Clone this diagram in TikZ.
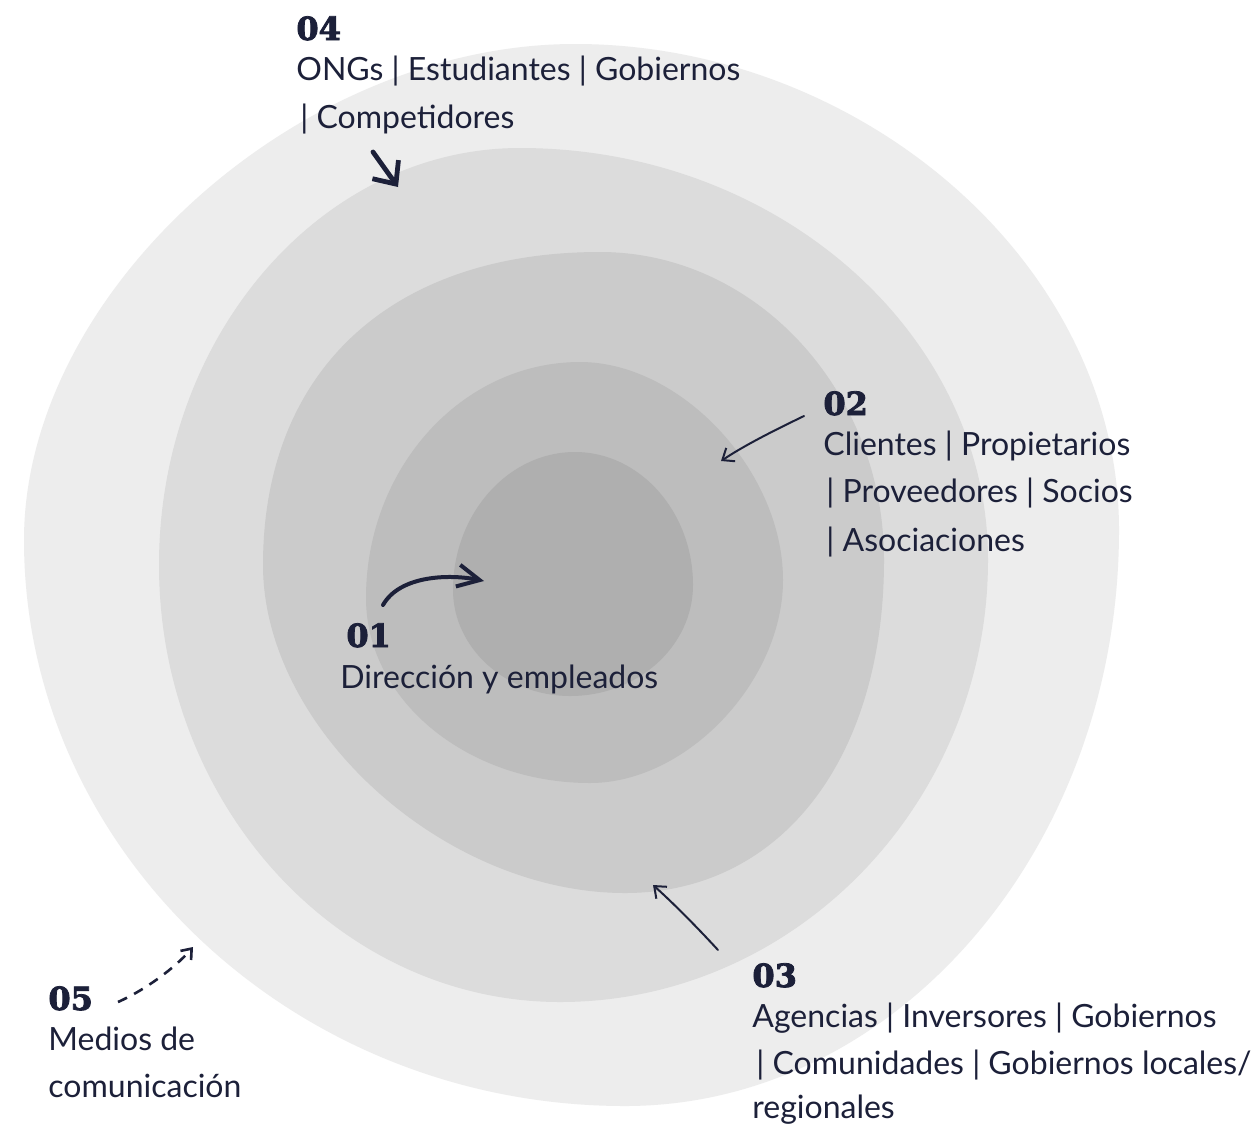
\documentclass[tikz,border=0pt]{standalone}
\usepackage{fontspec}
\usetikzlibrary{arrows.meta}
\newfontfamily\handfont{Lato}
\newfontfamily\numfont{DejaVu Serif}[BoldFeatures={FakeBold=2.5}]
\definecolor{ink}{HTML}{1C2039}
\definecolor{ringA}{HTML}{EDEDED}
\definecolor{ringB}{HTML}{DCDCDC}
\definecolor{ringC}{HTML}{CBCBCB}
\definecolor{ringD}{HTML}{BDBDBD}
\definecolor{ringE}{HTML}{AFAFAF}
\begin{document}
\begin{tikzpicture}[x=0.5pt,y=-0.5pt,
  num/.style={anchor=base west, inner sep=0pt, font=\numfont\bfseries\fontsize{16}{19}\selectfont, text=ink},
  hand/.style={anchor=base west, inner sep=0pt, font=\handfont\fontsize{16}{24}\selectfont, text=ink},
  heavyarrow/.style={draw=ink, line width=2.4pt, line cap=round, line join=round},
  thinarrow/.style={draw=ink, line width=1pt, line cap=round, line join=round, -{Straight Barb[length=5pt,width=8pt]}},
  dasharrow/.style={draw=ink, line width=1.3pt, dash pattern=on 5pt off 4pt, -{Straight Barb[length=4.5pt,width=7pt]}}
]
\fill[white] (0,0) rectangle (1251,1130);
\useasboundingbox (0,0) rectangle (1251,1130);

% rings
\fill[ringA] (575,44) .. controls (860,44) and (1119,263) .. (1119,530)
  .. controls (1119,847) and (897,1106) .. (625,1106)
  .. controls (294,1106) and (24,851) .. (24,540)
  .. controls (24,292) and (299,44) .. cycle;
\fill[ringB] (520,148) .. controls (777,148) and (988,333) .. (988,560)
  .. controls (988,803) and (795,1002) .. (560,1002)
  .. controls (339,1002) and (159,805) .. (159,565)
  .. controls (159,336) and (321,148) .. cycle;
\fill[ringC] (600,252) .. controls (756,252) and (884,391) .. (884,560)
  .. controls (884,760) and (780,893) .. (625,893)
  .. controls (444,893) and (263,729) .. (263,565)
  .. controls (263,371) and (391,252) .. cycle;
\fill[ringD] (580,362) .. controls (681,362) and (783,471) .. (783,580)
  .. controls (783,681) and (687,783) .. (590,783)
  .. controls (467,783) and (366,700) .. (366,598)
  .. controls (366,468) and (462,362) .. cycle;
\fill[ringE] (575,452) .. controls (640,452) and (693,512) .. (693,585)
  .. controls (693,646) and (638,696) .. (570,696)
  .. controls (506,696) and (453,648) .. (453,590)
  .. controls (453,514) and (508,452) .. cycle;

% labels
\node[num] (n04) at (296,40) {04};
\node[hand] (t04a) at (296,80) {ONGs | Estudiantes | Gobiernos};
\node[hand] (t04b) at (300,128) {| Competidores};

\node[num] (n02) at (823,415) {02};
\node[hand] (t02a) at (823,455) {Clientes | Propietarios};
\node[hand] (t02b) at (826,502) {| Proveedores | Socios};
\node[hand] (t02c) at (826,551) {| Asociaciones};

\node[num] (n01) at (346,647) {01};
\node[hand] (t01a) at (340,688) {Dirección y empleados};

\node[num] (n03) at (752,987) {03};
\node[hand] (t03a) at (752,1027) {Agencias | Inversores | Gobiernos};
\node[hand] (t03b) at (756,1074) {| Comunidades | Gobiernos locales/};
\node[hand] (t03c) at (752,1118) {regionales};

\node[num] (n05) at (48,1010) {05};
\node[hand] (t05a) at (48,1050) {Medios de};
\node[hand] (t05b) at (48,1097) {comunicación};

% arrow end points
\coordinate (a04s) at (373,152);
\coordinate (a04e) at (398,187);
\coordinate (a01s) at (383,605);
\coordinate (a01e) at (484,581);
\coordinate (a02s) at (804,416);
\coordinate (a02e) at (721,461);
\coordinate (a03s) at (718,950);
\coordinate (a03e) at (653,885);
\coordinate (a05s) at (118,1002);
\coordinate (a05e) at (193,947);

% arrows
\draw[heavyarrow, -{Straight Barb[length=9pt,width=16pt]}] (a04s) -- (a04e);
\draw[heavyarrow, line width=2pt, -{Straight Barb[length=11pt,width=11pt]}] (a01s) .. controls (400,575) and (450,574) .. (a01e);
\draw[thinarrow] (a02s) .. controls (775,430) and (745,445) .. (a02e);
\draw[thinarrow] (a03s) .. controls (695,925) and (672,902) .. (a03e);
\draw[dasharrow] (a05s) .. controls (145,990) and (175,968) .. (a05e);
\end{tikzpicture}
\end{document}
